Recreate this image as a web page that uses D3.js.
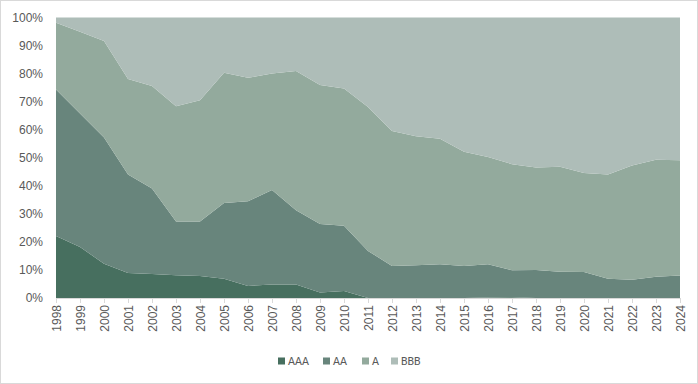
<!DOCTYPE html>
<html>
<head>
<meta charset="utf-8">
<script src="https://cdn.jsdelivr.net/npm/d3@7"></script>
<style>
  body { margin: 0; background: #fff; }
  svg { display: block; font-family: Calibri, "Liberation Sans", Arial, sans-serif; }
</style>
</head>
<body>
<script>
// years on the x axis
const years = [1998, 1999, 2000, 2001, 2002, 2003, 2004, 2005, 2006, 2007, 2008, 2009, 2010,
  2011, 2012, 2013, 2014, 2015, 2016, 2017, 2018, 2019, 2020, 2021, 2022, 2023, 2024];

// share per rating (percent)
const AAA = [22.1, 18.2, 12.2, 8.9, 8.6, 8.1, 7.8, 6.9, 4.3, 4.8, 4.8, 2.0, 2.5,
  0, 0, 0, 0, 0, 0.2, 0.3, 0, 0, 0, 0, 0, 0, 0];
const AA = [52.2, 47.6, 45.0, 35.1, 30.4, 19.2, 19.5, 27.0, 30.2, 33.7, 26.5, 24.4, 23.3,
  16.8, 11.4, 11.7, 12.0, 11.4, 11.8, 9.6, 10.0, 9.4, 9.3, 6.9, 6.5, 7.6, 8.0];
const A = [23.8, 29.1, 34.4, 34.1, 36.6, 41.1, 43.2, 46.4, 44.0, 41.5, 49.6, 49.5, 48.9,
  51.3, 48.1, 46.0, 44.8, 40.7, 38.3, 37.8, 36.5, 37.4, 35.3, 37.1, 40.7, 41.7, 41.1];
const BBB = [1.9, 5.1, 8.4, 21.9, 24.4, 31.6, 29.5, 19.7, 21.5, 20.0, 19.1, 24.1, 25.3,
  31.9, 40.5, 42.3, 43.2, 47.9, 49.7, 52.3, 53.5, 53.2, 55.4, 56.0, 52.8, 50.7, 50.9];

const seriesNames = ["AAA", "AA", "A", "BBB"];
const colors = ["#476f5f", "#68857c", "#93aa9d", "#aebdb8"];
const yTicks = [0, 10, 20, 30, 40, 50, 60, 70, 80, 90, 100];

const width = 698, height = 384;
const margin = { top: 17.5, right: 18, bottom: 86, left: 56 };

const rows = years.map((y, i) => ({ year: y, AAA: AAA[i], AA: AA[i], A: A[i], BBB: BBB[i] }));

const svg = d3.select("body").append("svg")
  .attr("width", width)
  .attr("height", height);

// chart border
svg.append("rect")
  .attr("x", 0.5).attr("y", 0.5)
  .attr("width", width - 1).attr("height", height - 1)
  .attr("fill", "#fff")
  .attr("stroke", "#d9d9d9");

const x = d3.scaleLinear()
  .domain(d3.extent(years))
  .range([margin.left, width - margin.right]);

const y = d3.scaleLinear()
  .domain([0, 100])
  .range([height - margin.bottom, margin.top]);

const stack = d3.stack().keys(seriesNames).offset(d3.stackOffsetExpand);
const layers = stack(rows);

const area = d3.area()
  .x(d => x(d.data.year))
  .y0(d => y(d[0] * 100))
  .y1(d => y(d[1] * 100));

svg.selectAll(".layer")
  .data(layers)
  .enter()
  .append("path")
  .attr("class", "layer")
  .attr("d", area)
  .attr("fill", (d, i) => colors[i]);

// x axis
const xAxis = d3.axisBottom(x)
  .tickValues(years)
  .tickFormat(d3.format("d"))
  .tickSize(5)
  .tickSizeOuter(0);

const gx = svg.append("g")
  .attr("transform", `translate(0, ${height - margin.bottom})`)
  .call(xAxis);
gx.select(".domain").attr("stroke", "#d9d9d9");
gx.selectAll(".tick line").attr("stroke", "#d9d9d9");
gx.selectAll(".tick text")
  .attr("fill", "#595959")
  .style("font-size", "12px")
  .attr("transform", "rotate(-90)")
  .attr("text-anchor", "end")
  .attr("x", -7)
  .attr("y", 0)
  .attr("dy", "0.35em");

// y axis
const yAxis = d3.axisLeft(y)
  .tickValues(yTicks)
  .tickFormat(d => d + "%")
  .tickSize(0);

const gy = svg.append("g")
  .attr("transform", `translate(${margin.left}, 0)`)
  .call(yAxis);
gy.select(".domain").remove();
gy.selectAll(".tick text")
  .attr("fill", "#595959")
  .attr("x", -13)
  .style("font-size", "12px");

// legend
const legendX = [278, 323, 362, 391];
const legend = svg.append("g");
seriesNames.forEach((name, i) => {
  legend.append("rect")
    .attr("x", legendX[i]).attr("y", 357.5)
    .attr("width", 7).attr("height", 7)
    .attr("fill", colors[i]);
  legend.append("text")
    .attr("x", legendX[i] + 10).attr("y", 361)
    .attr("dy", "0.35em")
    .attr("fill", "#595959")
    .style("font-size", "12px")
    .text(name);
});
</script>
</body>
</html>
